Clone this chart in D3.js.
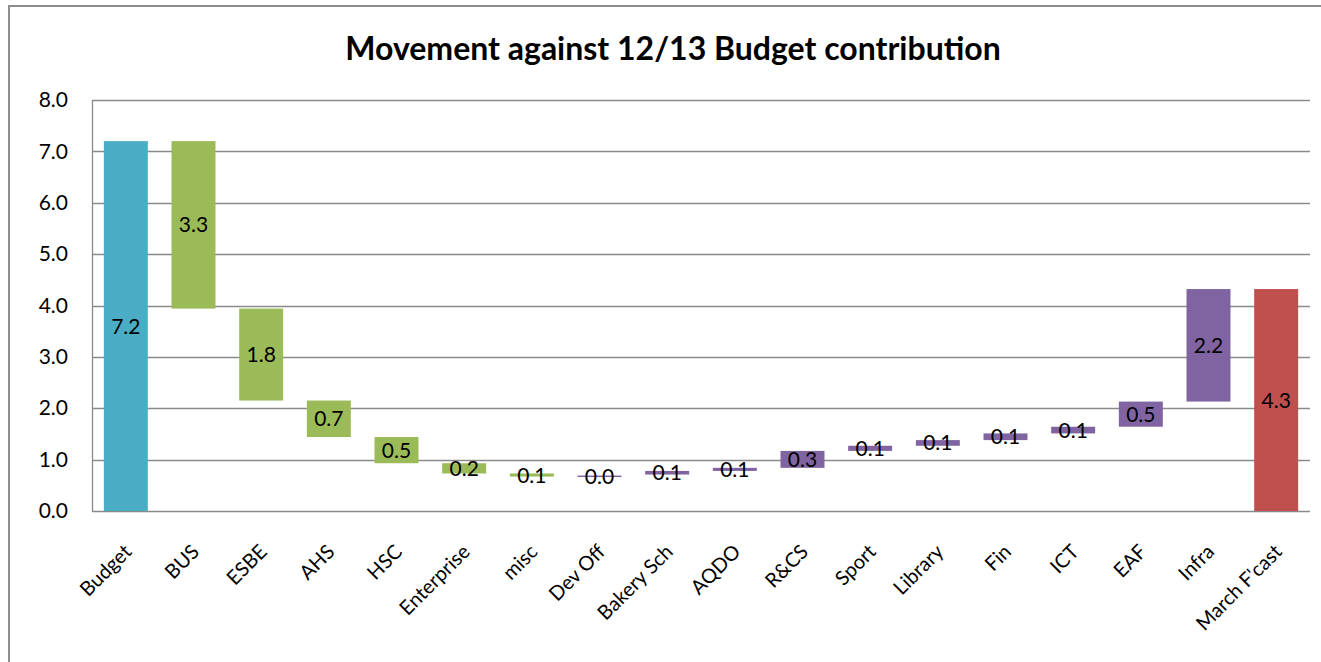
<!DOCTYPE html>
<html>
<head>
<meta charset="utf-8">
<script src="https://cdn.jsdelivr.net/npm/d3@7"></script>
<style>
  body { margin: 0; background: #fff; }
  text { font-family: Lato, "Open Sans", sans-serif; fill: #000; }
</style>
</head>
<body>
<div id="chart"></div>
<script>
// waterfall: each bar spans from barLow to barHigh
const categories = ["Budget", "BUS", "ESBE", "AHS", "HSC", "Enterprise", "misc", "Dev Off",
  "Bakery Sch", "AQDO", "R&CS", "Sport", "Library", "Fin", "ICT", "EAF", "Infra", "March F'cast"];
const barLow  = [0, 3.94, 2.15, 1.44, 0.93, 0.73, 0.67, 0.67, 0.71, 0.78, 0.84, 1.17, 1.27, 1.38, 1.51, 1.64, 2.13, 0];
const barHigh = [7.2, 7.2, 3.94, 2.15, 1.44, 0.93, 0.73, 0.69, 0.78, 0.84, 1.17, 1.27, 1.38, 1.51, 1.64, 2.13, 4.32, 4.32];
const barGroup = ["total", "down", "down", "down", "down", "down", "down", "up",
  "up", "up", "up", "up", "up", "up", "up", "up", "up", "final"];
const yTicks = [0, 1, 2, 3, 4, 5, 6, 7, 8];
const groupColors = { total: "#4BACC6", down: "#9BBB59", up: "#8064A2", final: "#C0504D" };

const W = 1321, H = 662;
const plot = { left: 92, right: 1310, top: 100, bottom: 511 };

const svg = d3.select("#chart").append("svg")
  .attr("width", W).attr("height", H);

svg.append("rect").attr("width", W).attr("height", H).attr("fill", "#fff");
// outer chart frame (runs off the bottom/right in the original)
svg.append("rect").attr("x", 9).attr("y", 6).attr("width", W + 20).attr("height", H + 20)
  .attr("fill", "none").attr("stroke", "#8c8c8c").attr("stroke-width", 2);

svg.append("text")
  .attr("x", 673).attr("y", 60)
  .attr("text-anchor", "middle")
  .style("font-size", "32px").style("font-weight", "bold")
  .text("Movement against 12/13 Budget contribution");

const x = d3.scaleBand().domain(categories)
  .range([plot.left, plot.right]).paddingInner(0.35).paddingOuter(0.175);
const y = d3.scaleLinear().domain([0, 8]).range([plot.bottom, plot.top]);

// gridlines
svg.append("g").selectAll("line").data(yTicks).join("line")
  .attr("x1", plot.left).attr("x2", plot.right)
  .attr("y1", d => Math.round(y(d)) + 0.5).attr("y2", d => Math.round(y(d)) + 0.5)
  .attr("stroke", "#8a8a8a").attr("stroke-width", 1.3);

svg.append("line")
  .attr("x1", plot.left + 0.5).attr("x2", plot.left + 0.5)
  .attr("y1", plot.top).attr("y2", plot.bottom + 1)
  .attr("stroke", "#8a8a8a").attr("stroke-width", 1.3);

// y axis labels
const yAxis = d3.axisLeft(y).tickValues(yTicks).tickFormat(d3.format(".1f")).tickSize(0).tickPadding(24);
svg.append("g").attr("transform", `translate(${plot.left},0)`).call(yAxis)
  .call(g => g.select(".domain").remove())
  .selectAll("text").style("font-size", "21px").attr("fill", "#000");

// bars
const idx = d3.range(categories.length);
svg.append("g").selectAll("rect").data(idx).join("rect")
  .attr("x", i => x(categories[i]))
  .attr("width", x.bandwidth())
  .attr("y", i => y(barHigh[i]))
  .attr("height", i => Math.max(1.5, y(barLow[i]) - y(barHigh[i])))
  .attr("fill", i => groupColors[barGroup[i]]);

// value labels
svg.append("g").selectAll("text").data(idx).join("text")
  .attr("x", i => x(categories[i]) + x.bandwidth() / 2)
  .attr("y", i => y((barLow[i] + barHigh[i]) / 2))
  .attr("dy", "0.36em")
  .attr("text-anchor", "middle")
  .style("font-size", "21px")
  .text(i => d3.format(".1f")(Math.abs(barHigh[i] - barLow[i])));

// x labels, rotated
const xAxis = d3.axisBottom(x).tickSize(0).tickPadding(0);
svg.append("g").attr("transform", `translate(0,${plot.bottom})`).call(xAxis)
  .call(g => g.select(".domain").remove())
  .selectAll("text")
  .style("font-size", "20px")
  .attr("fill", "#000")
  .attr("text-anchor", "end")
  .attr("dy", null)
  .attr("transform", "translate(7,42) rotate(-45)");
</script>
</body>
</html>
